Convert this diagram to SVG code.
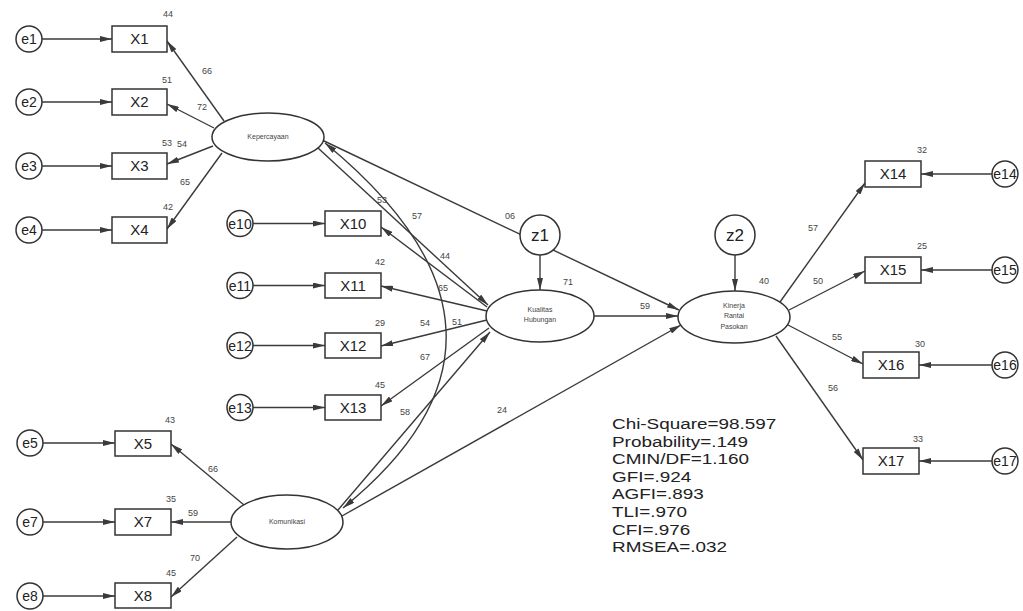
<svg xmlns="http://www.w3.org/2000/svg" width="1023" height="611" viewBox="0 0 1023 611">
<style>
.bg{fill:#fff}
.box{fill:#fff;stroke:#333;stroke-width:1.5}
.err{fill:#fff;stroke:#333;stroke-width:1.5}
.lat{fill:#fff;stroke:#333;stroke-width:1.5}
.bt{font-family:"Liberation Sans",Arial,sans-serif;font-size:15px;fill:#222;text-anchor:middle}
.et{font-family:"Liberation Sans",Arial,sans-serif;font-size:14px;fill:#222;text-anchor:middle}
.zt{font-family:"Liberation Sans",Arial,sans-serif;font-size:17px;fill:#222;text-anchor:middle}
.lt{font-family:"Liberation Sans",Arial,sans-serif;font-size:7px;fill:#444;text-anchor:middle}
.nt{font-family:"Liberation Sans",Arial,sans-serif;font-size:9px;fill:#444;text-anchor:middle}
.st{font-family:"Liberation Sans",Arial,sans-serif;font-size:15.5px;fill:#222}
.c{fill:none;stroke:#3a3a3a;stroke-width:1.4;marker-end:url(#ah)}
</style>
<defs>
<marker id="ah" viewBox="0 0 12 6" refX="12" refY="3" markerWidth="12" markerHeight="6" markerUnits="userSpaceOnUse" orient="auto-start-reverse">
<path d="M0,0 L12,3 L0,6 Z" fill="#3a3a3a"/>
</marker>
</defs>
<rect class="bg" x="0" y="0" width="1023" height="611"/>
<g id="connectors">
<line class="c" x1="42" y1="39" x2="112" y2="39"/>
<line class="c" x1="42" y1="102" x2="112" y2="102"/>
<line class="c" x1="42" y1="166" x2="112" y2="166"/>
<line class="c" x1="42" y1="230" x2="112" y2="230"/>
<line class="c" x1="43" y1="443" x2="115" y2="443"/>
<line class="c" x1="43" y1="522" x2="115" y2="522"/>
<line class="c" x1="43" y1="596" x2="115" y2="596"/>
<line class="c" x1="253" y1="223.5" x2="325" y2="223.5"/>
<line class="c" x1="253" y1="285.5" x2="325" y2="285.5"/>
<line class="c" x1="253" y1="345.5" x2="325" y2="345.5"/>
<line class="c" x1="253" y1="407.5" x2="325" y2="407.5"/>
<line class="c" x1="992" y1="174" x2="921" y2="174"/>
<line class="c" x1="992" y1="270" x2="921" y2="270"/>
<line class="c" x1="992" y1="365" x2="919" y2="365"/>
<line class="c" x1="992" y1="461" x2="919" y2="461"/>
<line class="c" x1="224" y1="121" x2="167" y2="41"/>
<line class="c" x1="214" y1="128" x2="167" y2="104"/>
<line class="c" x1="213" y1="146" x2="167" y2="164"/>
<line class="c" x1="222" y1="153" x2="167" y2="229"/>
<line class="c" x1="244" y1="505" x2="171" y2="444"/>
<line class="c" x1="231" y1="522" x2="171" y2="522"/>
<line class="c" x1="237" y1="537" x2="171" y2="597"/>
<line class="c" x1="487" y1="307" x2="381" y2="227"/>
<line class="c" x1="487" y1="311" x2="381" y2="286"/>
<line class="c" x1="487" y1="320" x2="381" y2="346"/>
<line class="c" x1="489" y1="328" x2="381" y2="406"/>
<line class="c" x1="780" y1="302" x2="865" y2="183"/>
<line class="c" x1="789" y1="310" x2="865" y2="271"/>
<line class="c" x1="788" y1="325" x2="863" y2="364"/>
<line class="c" x1="776" y1="336" x2="863" y2="460"/>
<line class="c" x1="318" y1="148" x2="488" y2="305"/>
<line class="c" x1="322" y1="140" x2="679" y2="310"/>
<line class="c" x1="338" y1="510" x2="490" y2="332"/>
<line class="c" x1="342" y1="516" x2="681" y2="325"/>
<line class="c" x1="594" y1="316" x2="678" y2="316"/>
<line class="c" x1="540" y1="255" x2="540" y2="290"/>
<line class="c" x1="735" y1="255" x2="735" y2="291"/>
<path class="c" d="M325,143 Q558,334 343,508" marker-start="url(#ah)"/>
</g>
<g id="Kepercayaan"><ellipse class="lat" cx="268" cy="137" rx="56" ry="24"/><text class="lt" x="268" y="139">Kepercayaan</text></g>
<g id="Komunikasi"><ellipse class="lat" cx="287" cy="522" rx="56" ry="27"/><text class="lt" x="287" y="524">Komunikasi</text></g>
<g id="Kualitas"><ellipse class="lat" cx="540" cy="316" rx="54" ry="26"/><text class="lt" x="540" y="312">Kualitas</text><text class="lt" x="540" y="322">Hubungan</text></g>
<g id="Kinerja"><ellipse class="lat" cx="734" cy="317" rx="56" ry="26"/><text class="lt" x="734" y="308">Kinerja</text><text class="lt" x="734" y="318">Rantai</text><text class="lt" x="734" y="329">Pasokan</text></g>
<g id="z1"><circle class="err" cx="540" cy="235" r="20"/><text class="zt" x="540" y="241">z1</text></g>
<g id="z2"><circle class="err" cx="735" cy="235" r="20"/><text class="zt" x="735" y="241">z2</text></g>
<g id="X1"><rect class="box" x="112" y="26" width="55" height="26"/><text class="bt" x="139.5" y="44">X1</text></g>
<g id="X2"><rect class="box" x="112" y="89" width="55" height="26"/><text class="bt" x="139.5" y="107">X2</text></g>
<g id="X3"><rect class="box" x="112" y="153" width="55" height="26"/><text class="bt" x="139.5" y="171">X3</text></g>
<g id="X4"><rect class="box" x="112" y="217" width="55" height="26"/><text class="bt" x="139.5" y="235">X4</text></g>
<g id="X5"><rect class="box" x="115" y="431" width="56" height="25"/><text class="bt" x="143" y="448.5">X5</text></g>
<g id="X7"><rect class="box" x="115" y="509" width="56" height="26"/><text class="bt" x="143" y="527">X7</text></g>
<g id="X8"><rect class="box" x="115" y="583" width="56" height="25"/><text class="bt" x="143" y="600.5">X8</text></g>
<g id="X10"><rect class="box" x="325" y="211" width="56" height="25"/><text class="bt" x="353" y="228.5">X10</text></g>
<g id="X11"><rect class="box" x="325" y="273" width="56" height="25"/><text class="bt" x="353" y="290.5">X11</text></g>
<g id="X12"><rect class="box" x="325" y="333" width="56" height="25"/><text class="bt" x="353" y="350.5">X12</text></g>
<g id="X13"><rect class="box" x="325" y="395" width="56" height="25"/><text class="bt" x="353" y="412.5">X13</text></g>
<g id="X14"><rect class="box" x="865" y="161" width="56" height="26"/><text class="bt" x="893" y="179">X14</text></g>
<g id="X15"><rect class="box" x="865" y="257" width="56" height="26"/><text class="bt" x="893" y="275">X15</text></g>
<g id="X16"><rect class="box" x="863" y="352" width="56" height="26"/><text class="bt" x="891" y="370">X16</text></g>
<g id="X17"><rect class="box" x="863" y="448" width="56" height="26"/><text class="bt" x="891" y="466">X17</text></g>
<g id="e1"><circle class="err" cx="29" cy="39" r="13"/><text class="et" x="29" y="44">e1</text></g>
<g id="e2"><circle class="err" cx="29" cy="102" r="13"/><text class="et" x="29" y="107">e2</text></g>
<g id="e3"><circle class="err" cx="29" cy="166" r="13"/><text class="et" x="29" y="171">e3</text></g>
<g id="e4"><circle class="err" cx="29" cy="230" r="13"/><text class="et" x="29" y="235">e4</text></g>
<g id="e5"><circle class="err" cx="30" cy="443" r="13"/><text class="et" x="30" y="448">e5</text></g>
<g id="e7"><circle class="err" cx="30" cy="522" r="13"/><text class="et" x="30" y="527">e7</text></g>
<g id="e8"><circle class="err" cx="30" cy="596" r="13"/><text class="et" x="30" y="601">e8</text></g>
<g id="e10"><circle class="err" cx="240" cy="223.5" r="13"/><text class="et" x="240" y="228.5">e10</text></g>
<g id="e11"><circle class="err" cx="240" cy="285.5" r="13"/><text class="et" x="240" y="290.5">e11</text></g>
<g id="e12"><circle class="err" cx="240" cy="345.5" r="13"/><text class="et" x="240" y="350.5">e12</text></g>
<g id="e13"><circle class="err" cx="240" cy="407.5" r="13"/><text class="et" x="240" y="412.5">e13</text></g>
<g id="e14"><circle class="err" cx="1005" cy="174" r="13"/><text class="et" x="1005" y="179">e14</text></g>
<g id="e15"><circle class="err" cx="1005" cy="270" r="13"/><text class="et" x="1005" y="275">e15</text></g>
<g id="e16"><circle class="err" cx="1005" cy="365" r="13"/><text class="et" x="1005" y="370">e16</text></g>
<g id="e17"><circle class="err" cx="1005" cy="461" r="13"/><text class="et" x="1005" y="466">e17</text></g>
<g id="labels">
<text class="nt" x="168" y="17">44</text>
<text class="nt" x="167" y="83">51</text>
<text class="nt" x="167" y="146">53</text>
<text class="nt" x="182" y="147">54</text>
<text class="nt" x="168" y="210">42</text>
<text class="nt" x="207" y="74">66</text>
<text class="nt" x="202" y="110">72</text>
<text class="nt" x="185" y="185">65</text>
<text class="nt" x="170" y="423">43</text>
<text class="nt" x="171" y="502">35</text>
<text class="nt" x="171" y="576">45</text>
<text class="nt" x="213" y="472">66</text>
<text class="nt" x="193" y="516">59</text>
<text class="nt" x="195" y="561">70</text>
<text class="nt" x="382" y="203">53</text>
<text class="nt" x="380" y="265">42</text>
<text class="nt" x="380" y="326">29</text>
<text class="nt" x="380" y="388">45</text>
<text class="nt" x="417" y="219">57</text>
<text class="nt" x="445" y="259">44</text>
<text class="nt" x="443" y="291">65</text>
<text class="nt" x="425" y="326">54</text>
<text class="nt" x="457" y="325">51</text>
<text class="nt" x="425" y="360">67</text>
<text class="nt" x="405" y="415">58</text>
<text class="nt" x="502" y="413">24</text>
<text class="nt" x="510" y="219">06</text>
<text class="nt" x="568" y="285">71</text>
<text class="nt" x="645" y="309">59</text>
<text class="nt" x="764" y="284">40</text>
<text class="nt" x="922" y="153">32</text>
<text class="nt" x="922" y="249">25</text>
<text class="nt" x="920" y="347">30</text>
<text class="nt" x="918" y="442">33</text>
<text class="nt" x="813" y="231">57</text>
<text class="nt" x="818" y="284">50</text>
<text class="nt" x="837" y="340">55</text>
<text class="nt" x="833" y="391">56</text>
</g>
<g id="stats" transform="translate(612,0) scale(1.22,1)">
<text class="st" x="0" y="429">Chi-Square=98.597</text>
<text class="st" x="0" y="447">Probability=.149</text>
<text class="st" x="0" y="464">CMIN/DF=1.160</text>
<text class="st" x="0" y="482">GFI=.924</text>
<text class="st" x="0" y="499">AGFI=.893</text>
<text class="st" x="0" y="517">TLI=.970</text>
<text class="st" x="0" y="535">CFI=.976</text>
<text class="st" x="0" y="552">RMSEA=.032</text>
</g>
</svg>
